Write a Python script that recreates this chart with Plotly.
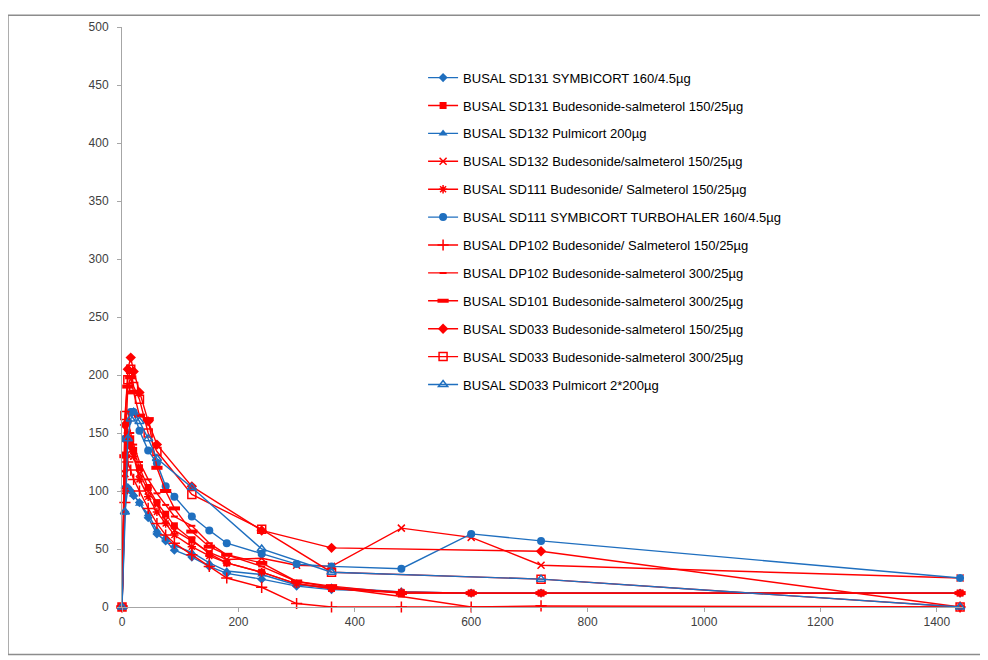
import plotly.graph_objects as go

BLUE = "#1F6FBF"
RED = "#FF0000"

times_full = [0, 5, 10, 15, 20, 30, 45, 60, 75, 90, 120, 150, 180, 240, 300, 360, 480, 600, 720, 1440]
times_sd033 = [0, 5, 10, 15, 20, 30, 45, 60, 120, 240, 360, 720, 1440]

names = [
    "BUSAL SD131 SYMBICORT 160/4.5µg",
    "BUSAL SD131 Budesonide-salmeterol 150/25µg",
    "BUSAL SD132 Pulmicort 200µg",
    "BUSAL SD132 Budesonide/salmeterol 150/25µg",
    "BUSAL SD111 Budesonide/ Salmeterol 150/25µg",
    "BUSAL SD111 SYMBICORT TURBOHALER 160/4.5µg",
    "BUSAL DP102 Budesonide/ Salmeterol 150/25µg",
    "BUSAL DP102 Budesonide-salmeterol 300/25µg",
    "BUSAL SD101 Budesonide-salmeterol 300/25µg",
    "BUSAL SD033 Budesonide-salmeterol 150/25µg",
    "BUSAL SD033 Budesonide-salmeterol 300/25µg",
    "BUSAL SD033 Pulmicort 2*200µg",
]

sd131_symbicort = [0, 82, 103, 100, 96, 90, 77, 63, 57, 49, 43, 35, 29, 24, 18, 15, 13, 12, 12, 12]
sd131_budsal150 = [0, 131, 140, 145, 135, 120, 103, 90, 80, 70, 58, 46, 38, 30, 20, 16, 12, 12, 12, 12]
sd132_pulmicort = [0, 104, 103, 100, 97, 89, 80, 66, 60, 53, 47, 38, 31, 28, 19, 17, 13, 12, 12, 12]
sd132_budsal150 = [0, 115, 140, 135, 130, 115, 100, 88, 75, 66, 57, 47, 41, 42, 36, 35, 68, 60, 36, 25]
sd111_budsal150 = [0, 100, 150, 140, 130, 110, 95, 82, 72, 62, 52, 44, 38, 30, 20, 16, 13, 12, 12, 12]
sd111_symbicort = [0, 145, 160, 168, 168, 152, 135, 124, 104, 95, 78, 66, 55, 46, 37, 35, 33, 63, 57, 25]
dp102_budsal150 = [0, 90, 125, 118, 110, 100, 85, 72, 62, 55, 45, 35, 25, 17, 3, 0, 0, 0, 1, 0]
dp102_budsal300 = [0, 130, 160, 150, 140, 125, 110, 98, 88, 78, 70, 55, 45, 35, 22, 17, 9, 0, 0, 0]
sd101_budsal300 = [0, 130, 190, 198, 185, 165, 162, 120, 100, 85, 65, 52, 45, 38, 22, 18, 12, 12, 12, 12]
sd033_budsal150 = [0, 157, 205, 215, 203, 185, 160, 140, 104, 66, 51, 48, 0]
sd033_budsal300 = [0, 165, 196, 205, 190, 179, 150, 134, 97, 67, 30, 24, 0]
sd033_pulmicort = [0, 82, 145, 162, 168, 160, 145, 128, 103, 50, 30, 24, 0]

series = [
    (times_full, sd131_symbicort, BLUE, dict(symbol="diamond", size=7)),
    (times_full, sd131_budsal150, RED, dict(symbol="square", size=7)),
    (times_full, sd132_pulmicort, BLUE, dict(symbol="triangle-up", size=8)),
    (times_full, sd132_budsal150, RED, dict(symbol="x-thin-open", size=7, line=dict(width=1.5, color=RED))),
    (times_full, sd111_budsal150, RED, dict(symbol="asterisk-open", size=7, line=dict(width=1.5, color=RED))),
    (times_full, sd111_symbicort, BLUE, dict(symbol="circle", size=8)),
    (times_full, dp102_budsal150, RED, dict(symbol="cross-thin-open", size=8, line=dict(width=1.5, color=RED))),
    (times_full, dp102_budsal300, RED, dict(symbol="line-ew-open", size=5, line=dict(width=2, color=RED))),
    (times_full, sd101_budsal300, RED, dict(symbol="line-ew-open", size=8, line=dict(width=4, color=RED))),
    (times_sd033, sd033_budsal150, RED, dict(symbol="diamond", size=8)),
    (times_sd033, sd033_budsal300, RED, dict(symbol="square-open", size=8, line=dict(width=1.5))),
    (times_sd033, sd033_pulmicort, BLUE, dict(symbol="triangle-up-open", size=8, line=dict(width=1.5))),
]

fig = go.Figure()
for i, (name, (t, v, col, mk)) in enumerate(zip(names, series)):
    mk = dict(mk)
    mk.setdefault("color", col)
    fig.add_trace(go.Scatter(
        x=t, y=v, name=name, mode="lines+markers",
        line=dict(color=col, width=1.4),
        marker=mk, legendgroup=f"g{i}", cliponaxis=False,
    ))

fig.update_layout(
    width=988, height=660,
    margin=dict(l=114, r=33, t=12, b=61),
    paper_bgcolor="white", plot_bgcolor="white",
    font=dict(family="Liberation Sans, Arial, sans-serif", size=12, color="#404040"),
    showlegend=True,
    legend=dict(
        x=0.358, y=0.9385, xanchor="left", yanchor="top",
        bgcolor="rgba(0,0,0,0)", tracegroupgap=8,
        font=dict(size=13, color="#000000"),
    ),
    shapes=[dict(
        type="rect", xref="paper", yref="paper",
        x0=-0.1356, x1=1.026, y0=-0.0818, y1=1.0204,
        line=dict(color="#8C8C8C", width=1.5), fillcolor="rgba(0,0,0,0)", layer="below",
    )],
)
fig.update_xaxes(
    range=[0, 1445], tickvals=[0, 200, 400, 600, 800, 1000, 1200, 1400],
    showline=True, linecolor="#A6A6A6", linewidth=1, showgrid=False, zeroline=False,
    ticks="outside", ticklen=4, tickcolor="#A6A6A6",
)
fig.update_yaxes(
    range=[0, 500], dtick=50,
    showline=True, linecolor="#A6A6A6", linewidth=1, showgrid=False, zeroline=False,
    ticks="outside", ticklen=4, tickcolor="#A6A6A6", ticklabelstandoff=6,
)

fig.write_html("out.html")
